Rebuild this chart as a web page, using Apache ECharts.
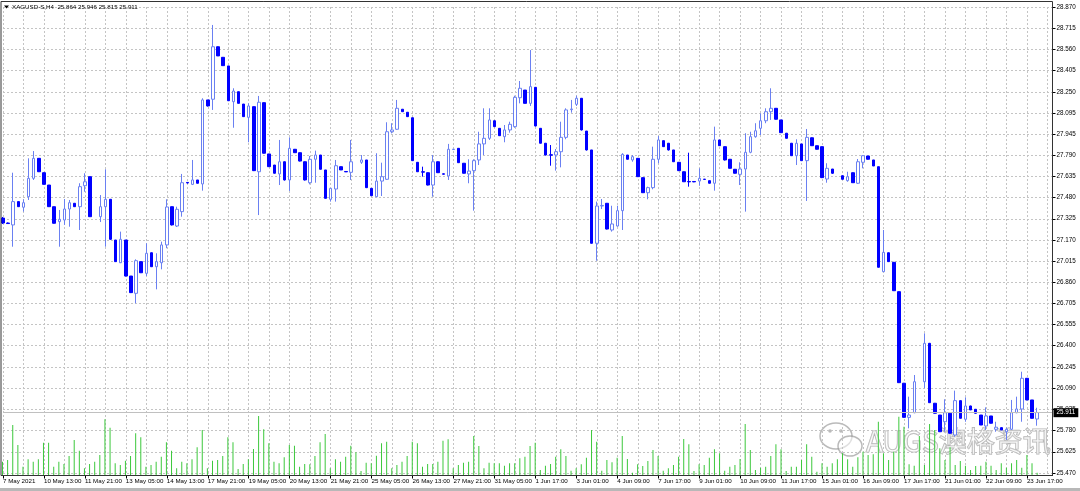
<!DOCTYPE html>
<html><head><meta charset="utf-8">
<script src="https://cdn.jsdelivr.net/npm/echarts@6/dist/echarts.min.js"></script>
<style>html,body{margin:0;padding:0;background:#fff}#c{width:1080px;height:491px}</style>
</head><body><div id="c"></div>
<script>
const symbolName = 'XAGUSD-S,H4';
const lastQuote = [25.864, 25.946, 25.815, 25.911];

const timeLabels = ['7 May 2021','10 May 13:00','11 May 21:00','13 May 05:00','14 May 13:00','17 May 21:00','19 May 05:00','20 May 13:00','21 May 21:00','25 May 05:00','26 May 13:00','27 May 21:00','31 May 05:00','1 Jun 17:00','3 Jun 01:00','4 Jun 09:00','7 Jun 17:00','9 Jun 01:00','10 Jun 09:00','11 Jun 17:00','15 Jun 01:00','16 Jun 09:00','17 Jun 17:00','21 Jun 01:00','22 Jun 09:00','23 Jun 17:00'];

const priceTicks = ['28.870','28.715','28.560','28.405','28.250','28.095','27.945','27.790','27.635','27.480','27.325','27.170','27.015','26.860','26.705','26.555','26.400','26.245','26.090','25.935','25.780','25.625','25.470'];

const opens = [27.330,27.294,27.280,27.450,27.409,27.486,27.620,27.766,27.661,27.571,
27.413,27.304,27.316,27.396,27.438,27.413,27.566,27.632,null,27.340,
27.413,27.467,27.170,27.004,27.170,26.907,26.781,27.012,26.927,27.077,
26.975,27.004,27.134,27.413,27.272,27.377,27.590,27.576,27.608,27.579,
28.192,28.197,28.580,28.503,28.440,28.179,28.252,28.162,28.065,28.143,
27.668,28.172,27.798,27.717,27.652,27.741,27.608,27.832,27.807,27.741,
27.588,27.759,27.790,27.681,27.467,27.542,27.705,27.670,27.664,null,
27.737,27.754,27.547,27.486,27.600,27.613,27.960,27.978,28.124,28.102,
28.062,27.737,27.668,27.661,27.571,27.741,27.653,27.637,27.830,27.839,
27.730,27.652,27.676,27.754,27.871,27.912,28.040,27.985,27.924,27.973,
27.997,28.208,28.264,28.167,28.284,27.985,27.876,27.792,27.790,27.814,
27.919,28.121,28.160,28.204,27.965,27.827,27.146,27.418,27.438,27.243,
27.272,27.384,27.790,27.754,27.766,27.625,27.515,27.552,27.759,27.895,
27.876,27.827,27.737,27.668,27.597,27.597,27.600,27.614,27.603,27.584,
27.900,27.851,27.759,27.686,27.649,27.688,27.810,27.924,27.985,28.040,
28.106,28.131,28.046,27.949,27.876,27.785,27.871,27.749,27.916,27.858,
27.851,27.615,27.688,null,27.639,27.603,27.661,27.584,27.737,27.783,
27.754,27.705,26.939,27.077,27.007,26.793,26.125,25.876,25.910,null,
26.136,26.416,25.979,25.893,25.844,25.906,25.747,25.998,25.862,25.959,
25.935,25.893,25.813,25.886,25.789,25.801,25.771,25.789,25.910,25.937,
26.161,26.003,25.864];

const highs = [27.338,27.298,27.661,27.451,27.467,27.766,27.819,27.768,27.663,27.571,
27.414,27.389,27.469,27.462,27.440,27.584,27.657,27.633,null,27.498,
27.686,27.469,27.170,27.231,27.170,26.907,27.029,27.013,27.146,27.079,
27.073,27.158,27.467,27.414,27.413,27.652,27.593,27.754,27.608,28.204,
28.192,28.739,28.582,28.505,28.440,28.277,28.253,28.162,28.167,28.144,
28.221,28.173,27.798,27.717,27.900,27.743,27.919,27.834,27.808,27.743,
27.783,27.822,27.790,27.681,27.549,27.754,27.706,27.671,27.900,null,
27.790,27.754,27.549,27.803,27.734,28.029,28.022,28.192,28.126,28.104,
28.064,27.739,27.705,27.663,27.790,27.743,27.655,27.871,27.834,27.841,
27.732,27.759,27.759,27.960,28.131,28.131,28.042,27.987,28.009,28.033,
28.223,28.330,28.264,28.556,28.286,27.987,27.878,27.863,27.834,28.033,
28.131,28.192,28.223,28.206,27.965,27.827,27.450,27.469,27.440,27.420,
27.420,27.803,27.790,27.790,27.768,27.626,27.559,27.851,27.929,27.896,
27.878,27.827,27.739,27.670,27.807,27.598,27.693,27.615,27.604,27.997,
27.900,27.852,27.761,27.688,27.737,27.949,27.960,28.022,28.094,28.131,
28.277,28.133,28.046,27.951,27.878,27.905,27.871,27.980,27.918,27.859,
27.852,27.730,27.688,null,27.641,27.668,27.663,27.761,27.790,27.783,
27.754,27.706,27.243,27.079,27.010,26.794,26.127,26.027,26.185,null,
26.489,26.419,25.981,25.893,26.008,25.908,26.071,25.999,26.022,25.961,
25.937,25.893,25.949,25.886,25.844,25.802,25.801,26.003,26.027,26.209,
26.163,26.003,25.946];

const lows = [27.287,27.287,27.121,27.411,27.377,27.462,27.608,27.666,27.575,27.411,
27.290,27.121,27.280,27.267,27.411,27.243,27.522,27.338,null,27.301,
27.121,27.170,27.010,27.002,26.904,26.783,26.708,26.929,26.907,26.973,
26.810,26.956,27.110,27.276,27.265,27.340,27.582,27.571,27.582,27.530,
28.144,28.119,28.513,28.440,28.184,27.989,28.166,28.068,27.883,27.673,
27.352,27.801,27.703,27.655,27.571,27.604,27.528,27.805,27.743,27.604,
27.576,27.588,27.684,27.473,27.450,27.450,27.681,27.666,27.608,null,
27.725,27.549,27.491,27.484,27.491,27.608,27.948,27.973,28.104,28.068,
27.746,27.666,27.632,27.568,27.486,27.659,27.648,27.608,27.828,27.732,
27.655,27.584,27.384,27.717,27.790,27.900,27.994,27.929,27.883,27.953,
27.989,28.167,28.166,28.148,27.998,27.874,27.787,27.712,27.676,27.700,
27.905,28.099,28.148,27.969,27.823,27.144,27.019,27.396,27.247,27.231,
27.267,27.243,27.757,27.741,27.630,27.513,27.467,27.540,27.730,27.849,
27.823,27.739,27.673,27.593,27.559,27.592,27.566,27.610,27.582,27.530,
27.856,27.750,27.692,27.655,27.571,27.377,27.803,27.916,27.936,28.022,
28.046,28.049,27.951,27.911,27.783,27.717,27.746,27.455,27.856,27.830,
27.622,27.588,27.652,null,27.611,27.595,27.586,27.579,27.693,27.757,
27.710,26.969,26.936,27.010,26.798,26.127,25.875,25.796,25.906,null,
26.088,25.981,25.904,25.769,25.771,25.758,25.735,25.868,25.844,25.930,
25.904,25.820,25.784,25.831,25.771,25.784,25.711,25.784,25.906,25.844,
26.001,25.868,25.815];

const closes = [27.294,27.290,27.450,27.413,27.442,27.620,27.766,27.668,27.576,27.413,
27.292,27.321,27.396,27.442,27.413,27.559,27.595,27.340,null,27.413,
27.467,27.175,27.012,27.175,26.907,26.786,27.019,26.931,27.073,26.975,
27.012,27.134,27.411,27.280,27.394,27.588,27.586,27.608,27.584,28.192,
28.148,28.580,28.513,28.442,28.186,28.257,28.167,28.070,28.148,27.676,
28.175,27.803,27.705,27.657,27.741,27.608,27.839,27.807,27.746,27.608,
27.759,27.790,27.686,27.474,27.547,27.712,27.681,27.667,27.741,null,
27.754,27.552,27.493,27.600,27.632,27.960,27.973,28.131,28.106,28.070,
27.749,27.668,27.665,27.571,27.741,27.661,27.650,27.832,27.833,27.734,
27.657,27.673,27.749,27.871,27.912,28.046,27.997,27.931,27.973,28.014,
28.211,28.277,28.167,28.289,28.002,27.876,27.790,27.789,27.814,27.919,
28.119,28.126,28.204,27.973,27.827,27.146,27.418,27.422,27.250,27.287,
27.384,27.795,27.759,27.778,27.632,27.515,27.552,27.759,27.900,27.851,
27.827,27.741,27.676,27.595,27.594,27.594,27.620,27.612,27.584,27.900,
27.858,27.754,27.693,27.657,27.688,27.810,27.924,27.967,28.040,28.106,
28.131,28.051,27.953,27.912,27.785,27.876,27.749,27.919,27.858,27.832,
27.625,27.693,27.657,null,27.613,27.632,27.588,27.741,27.785,27.759,
27.710,26.971,27.080,27.012,26.800,26.129,25.876,25.893,26.136,null,
26.416,25.983,25.906,25.771,25.910,25.760,25.998,25.869,25.959,25.930,
25.906,25.820,25.886,25.833,25.804,25.784,25.789,25.910,25.937,26.161,
26.003,25.869,25.911];

const volumes = [1330,1500,5000,3000,830,1570,1330,1570,3230,3230,
830,1330,1100,1900,3500,2430,670,1100,1330,2000,
5570,4730,1170,1000,1430,1900,4170,3770,830,1000,
1330,1830,3270,2430,670,1330,1170,1570,2770,4500,
670,1430,1500,1900,3770,3270,600,1100,1570,2600,
5900,4570,3170,1330,1170,1770,3000,2930,830,1100,
1070,1900,3270,4100,670,1570,1330,1830,2930,2270,
400,1230,1170,1930,3170,3330,670,1000,1330,1900,
3330,3170,830,1100,1100,1330,3430,3570,670,1000,
1230,1330,3900,2900,670,1230,1170,1170,930,1170,
1170,1670,1830,2900,3230,500,930,1100,1830,2570,
1900,430,670,1070,1730,4500,3330,430,1500,1270,
1730,3900,1600,230,1070,900,1400,2500,1900,430,
670,1000,1830,3600,3070,400,1070,1000,1730,2570,
2170,430,830,1000,1600,5100,2500,500,730,830,
1900,3070,2570,400,830,830,1500,3070,1830,330,
1170,830,1170,1570,2170,1570,830,1770,2330,2000,
2070,5330,2170,1500,2330,5830,4830,1070,930,3900,
1000,5100,4500,2670,1500,2770,1000,1400,930,500,
900,930,1330,930,500,1170,730,1170,1500,730,
2000,1170,230];

const SLOTS = 206;
const cats = Array.from({length: SLOTS}, (_, i) => String(i));
const candleData = opens.map((o, i) => o == null ? ['-','-','-','-'] : [o, closes[i], lows[i], highs[i]]);

const FONT = '"Liberation Sans", Arial, sans-serif';
const gridLine = {show: true, lineStyle: {color: '#c4c4c4', width: 1, type: [2, 2]}};
const GL = 2.5, GW = 1050;

const chart = echarts.init(document.getElementById('c'), null, {renderer: 'canvas'});
chart.setOption({
  animation: false,
  backgroundColor: '#ffffff',
  grid: [
    {left: GL, width: GW, top: 7, height: 466},
    {left: GL, width: GW, top: 375, height: 100}
  ],
  xAxis: [
    {
      type: 'category', gridIndex: 0, data: cats, boundaryGap: false, offset: 2.5,
      axisLine: {show: true, lineStyle: {color: '#000', width: 1}},
      axisTick: {show: true, interval: 7, length: 3, lineStyle: {color: '#000'}},
      axisLabel: {
        show: true, interval: 7, align: 'left', margin: 3, fontSize: 6.2, color: '#000', fontFamily: FONT,
        formatter: (v, idx) => timeLabels[idx / 8] || ''
      },
      splitLine: Object.assign({interval: 3}, gridLine)
    },
    {
      type: 'category', gridIndex: 1, data: cats, boundaryGap: false, show: false
    }
  ],
  yAxis: [
    {
      type: 'value', gridIndex: 0, position: 'right', min: 25.470, max: 28.870, scale: true,
      axisLine: {show: true, lineStyle: {color: '#000', width: 1}},
      axisTick: {show: true, length: 3, customValues: priceTicks.map(Number), lineStyle: {color: '#000'}},
      axisLabel: {
        show: true, margin: 4, fontSize: 6.3, color: '#000', fontFamily: FONT,
        customValues: priceTicks.map(Number),
        formatter: v => v.toFixed(3)
      },
      splitLine: gridLine
    },
    {type: 'value', gridIndex: 1, min: 0, max: 10000, show: false, splitLine: {show: false}}
  ],
  series: [
    {
      type: 'bar', xAxisIndex: 1, yAxisIndex: 1, data: volumes, barWidth: 1, z: 1,
      itemStyle: {color: '#3cc83c'}, silent: true
    },
    {
      type: 'candlestick', xAxisIndex: 0, yAxisIndex: 0, data: candleData, barWidth: 3, z: 3, clip: false,
      itemStyle: {color: '#ffffff', color0: '#0000ff', borderColor: '#6a80f2', borderColor0: '#0000ff', borderWidth: 1},
      markLine: {
        silent: true, symbol: ['none', 'none'], animation: false,
        data: [{yAxis: lastQuote[3]}],
        lineStyle: {color: '#c0c0c0', type: 'solid', width: 1},
        label: {
          show: true, position: 'end', distance: 1, formatter: lastQuote[3].toFixed(3),
          backgroundColor: '#000', color: '#fff', fontSize: 6.3, fontFamily: FONT, padding: [2, 3, 1, 3]
        },
        emphasis: {disabled: true}
      }
    }
  ],
  graphic: [
    {type: 'rect', shape: {x: 1, y: 1.5, width: 1051.5, height: 474}, style: {fill: 'none', stroke: '#333', lineWidth: 1}, silent: true, z: 10},
    {type: 'rect', shape: {x: 0, y: 488, width: 1080, height: 3}, style: {fill: '#b8b8b8'}, silent: true, z: 10},
    {type: 'polygon', shape: {points: [[4, 5.5], [9, 5.5], [6.5, 8.5]]}, style: {fill: '#000'}, silent: true, z: 10},
    {type: 'text', x: 12, y: 7, style: {
      text: symbolName + '  ' + lastQuote.map(v => v.toFixed(3)).join(' '),
      fontSize: 6.2, fontFamily: FONT, fill: '#000', verticalAlign: 'middle'
    }, silent: true, z: 10},
    {type: 'group', silent: true, z: 20, children: [
      {type: 'ellipse', shape: {cx: 836, cy: 436, rx: 16, ry: 13}, style: {fill: 'rgba(255,255,255,0.55)', stroke: 'rgba(140,140,140,0.6)', lineWidth: 1.5}},
      {type: 'ellipse', shape: {cx: 850, cy: 446, rx: 12, ry: 10}, style: {fill: 'rgba(255,255,255,0.55)', stroke: 'rgba(140,140,140,0.6)', lineWidth: 1.5}},
      {type: 'circle', shape: {cx: 830, cy: 431, r: 1.8}, style: {fill: 'rgba(140,140,140,0.6)'}},
      {type: 'circle', shape: {cx: 841, cy: 431, r: 1.8}, style: {fill: 'rgba(140,140,140,0.6)'}},
      {type: 'text', x: 866, y: 441, style: {
        text: 'AUGS澳格资讯', fontSize: 28, fontFamily: '"Noto Sans CJK SC", sans-serif',
        fill: 'rgba(255,255,255,0.45)', stroke: 'rgba(130,130,130,0.6)', lineWidth: 1.2, verticalAlign: 'middle'
      }}
    ]}
  ]
});
</script>
</body></html>
